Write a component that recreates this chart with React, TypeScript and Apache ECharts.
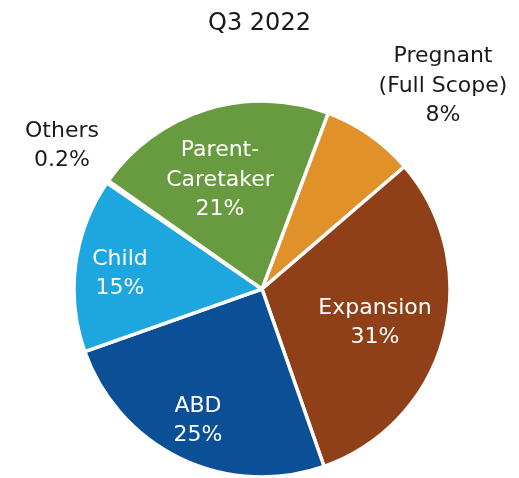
import React, { useEffect, useRef } from "react";
import * as echarts from "echarts";

const categories = ["Pregnant\n(Full Scope)", "Expansion", "ABD", "Child", "Others", "Parent-\nCaretaker"];
const values = [8, 31, 25, 15, 0.2, 21];
const colors = ["#E0912A", "#8F4018", "#0B4F96", "#1EA6DF", "#FFFFFF", "#689B40"];
const title = "Q3 2022";

// label anchor points (px) per slice
const labelPos: [number, number][] = [
  [443, 84],
  [375, 321],
  [198, 419],
  [120, 272],
  [62, 144],
  [220, 178],
];
const outside = [true, false, false, false, true, false];

export default function App() {
  const ref = useRef<HTMLDivElement>(null);
  useEffect(() => {
    const chart = echarts.init(ref.current!, null, { renderer: "svg" });
    const font = "DejaVu Sans";
    chart.setOption({
      animation: false,
      title: {
        text: title,
        left: "center",
        top: 5,
        textStyle: { fontFamily: font, fontSize: 24, fontWeight: "normal", color: "#1a1a1a" },
      },
      series: [
        {
          type: "pie",
          center: [262, 289],
          radius: [0, 188],
          startAngle: 69.4,
          clockwise: true,
          avoidLabelOverlap: false,
          data: categories.map((c, i) => ({
            name: c,
            value: values[i],
            itemStyle: { color: colors[i] },
            label: {
              position: outside[i] ? "outside" : "inside",
              color: outside[i] ? "#1a1a1a" : "#ffffff",
            },
            labelLine: { show: false },
          })),
          itemStyle: { borderColor: "#ffffff", borderWidth: 3.5 },
          label: {
            show: true,
            fontFamily: font,
            fontSize: 22,
            lineHeight: 29.5,
            align: "center",
            formatter: (p: any) => `${p.name}\n${p.value}%`,
          },
          labelLayout: (params: any) => {
            const [x, y] = labelPos[params.dataIndex];
            return { x, y, align: "center", verticalAlign: "middle" };
          },
        },
      ],
    });
    return () => chart.dispose();
  }, []);
  return <div ref={ref} style={{ position: "fixed", left: 0, top: 0, width: 519, height: 478 }} />;
}
